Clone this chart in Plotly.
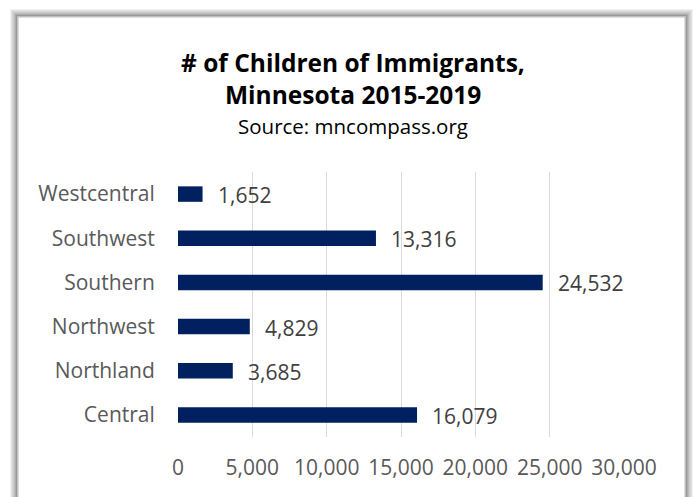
import plotly.graph_objects as go

# Children of immigrants by Minnesota region, 2015-2019
regions = ["Central", "Northland", "Northwest", "Southern", "Southwest", "Westcentral"]
children = [16079, 3685, 4829, 24532, 13316, 1652]
x_ticks = [0, 5000, 10000, 15000, 20000, 25000, 30000]
x_tick_text = ["0", "5,000", "10,000", "15,000", "20,000", "25,000", "30,000"]

W, H = 694, 497
L, R, T, B = 178, 70, 172, 60
pw, ph = W - L - R, H - T - B

def px(xpix):
    return (xpix - L) / pw

def py(ypix):
    return (H - B - ypix) / ph

FONT = "Open Sans, sans-serif"
BAR = "#002060"

fig = go.Figure(
    go.Bar(
        y=regions,
        x=children,
        orientation="h",
        width=0.35,
        marker=dict(color=BAR, line=dict(width=0)),
        hoverinfo="skip",
    )
)

# value labels next to each bar
for r, v in zip(regions, children):
    fig.add_annotation(
        x=v, y=r, xref="x", yref="y",
        text=f"{v:,}", showarrow=False,
        xanchor="left", yanchor="middle", xshift=13, yshift=-1,
        font=dict(family=FONT, size=21, color="#404040"),
    )

# chart frame with a soft drop shadow
shapes = []
fx0, fx1, fy0, fy1 = 18, 685, 17, 530
for i, op in enumerate([0.05, 0.07, 0.09, 0.12, 0.15, 0.2, 0.25]):
    d = 7 - i
    shapes.append(dict(
        type="rect", xref="paper", yref="paper",
        x0=px(fx0 - d), x1=px(fx1 + d), y0=py(fy1 + d), y1=py(fy0 - d),
        line=dict(color=f"rgba(0,0,0,{op})", width=2), fillcolor="rgba(0,0,0,0)",
        layer="below",
    ))
shapes.append(dict(
    type="rect", xref="paper", yref="paper",
    x0=px(fx0), x1=px(fx1), y0=py(fy1), y1=py(fy0),
    line=dict(color="#bfbfbf", width=1), fillcolor="white", layer="below",
))

# title block
titles = [
    ("<b># of Children of Immigrants,</b>", 62, 24.5),
    ("<b>Minnesota 2015-2019</b>", 94, 24.5),
    ("Source: mncompass.org", 126, 20.5),
]
for txt, yc, sz in titles:
    fig.add_annotation(
        x=px(353), y=py(yc), xref="paper", yref="paper",
        text=txt, showarrow=False, xanchor="center", yanchor="middle",
        font=dict(family=FONT, size=sz, color="#000000"),
    )

fig.update_layout(
    width=W, height=H,
    margin=dict(l=L, r=R, t=T, b=B, pad=0),
    paper_bgcolor="white", plot_bgcolor="rgba(0,0,0,0)",
    shapes=shapes,
    showlegend=False,
    bargap=0.65,
    xaxis=dict(
        range=[0, 30000], tickvals=x_ticks, ticktext=x_tick_text,
        showgrid=True, gridcolor="#d9d9d9", gridwidth=1,
        zeroline=False, showline=False,
        ticks="outside", ticklen=12, tickcolor="rgba(0,0,0,0)",
        tickfont=dict(family=FONT, size=21, color="#595959"),
        fixedrange=True,
    ),
    yaxis=dict(
        categoryorder="array", categoryarray=regions,
        showgrid=False, zeroline=False, showline=False,
        ticks="outside", ticklen=18, tickcolor="rgba(0,0,0,0)",
        tickfont=dict(family=FONT, size=21, color="#595959"),
        fixedrange=True,
    ),
)

fig.write_html("out.html")
